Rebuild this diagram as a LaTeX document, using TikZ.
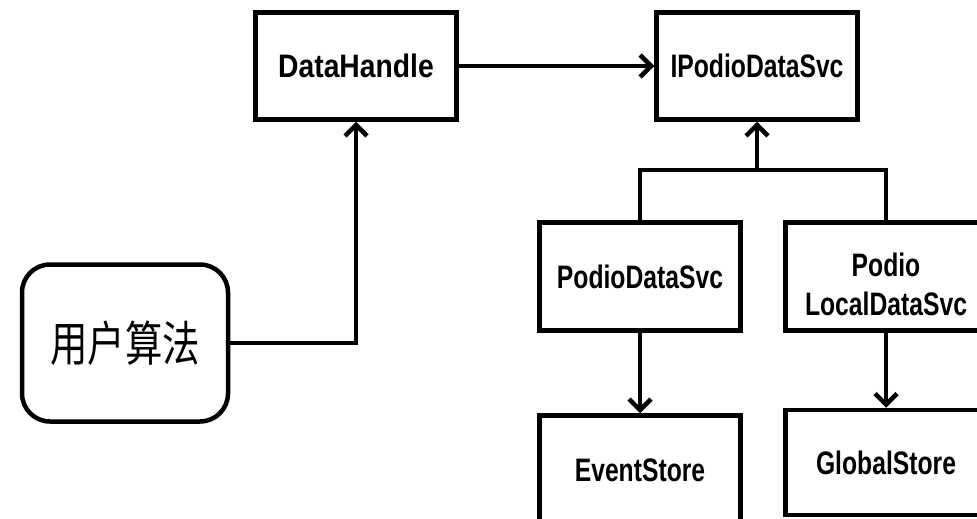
\documentclass[tikz,border=0pt]{standalone}
\usepackage{fontspec}
\setmainfont{Liberation Sans}
\newfontfamily\boxfont[FakeStretch=0.76]{Liberation Sans}
\newfontfamily\wideboxfont[FakeStretch=0.87]{Liberation Sans}
\newfontfamily\cjkfont[FakeStretch=0.78]{Noto Sans CJK SC}
\usetikzlibrary{arrows.meta}

\begin{document}
\begin{tikzpicture}[x=1pt, y=-1pt,
  box/.style={draw, line width=4.5pt, minimum width=201pt, minimum height=108pt,
    inner sep=0pt, text height=23pt, text depth=0pt,
    font=\boxfont\bfseries\fontsize{32.5}{39}\selectfont},
  lbl/.style={inner sep=0pt, align=center,
    font=\boxfont\bfseries\fontsize{32.5}{39}\selectfont},
  wire/.style={line width=4.5pt},
  arr/.style={line width=4.5pt, -{Straight Barb[length=11pt,width=22pt]}}
]
\useasboundingbox (0,0) rectangle (977,519);
\clip (0,0) rectangle (977,519);

% user algorithm (rounded box)
\node[draw, line width=4.5pt, rounded corners=28pt, minimum width=206pt,
  minimum height=157pt, inner sep=0pt,
  font=\cjkfont\fontsize{48}{52}\selectfont] (user) at (125,343) {用户算法};

% top row
\node[box, minimum height=107pt, font=\wideboxfont\bfseries\fontsize{32.5}{39}\selectfont]
  (dh) at (356,66) {DataHandle};
\node[box, minimum height=107pt] (ip) at (757,66) {IPodioDataSvc};

% services
\node[box] (pds) at (640,276.5) {PodioDataSvc};
\node[box] (pl) at (886,276.5) {};
\node[lbl] (pltext) at (886,284) {Podio\\LocalDataSvc};

% stores
\node[box] (es) at (640,469.5) {EventStore};
\node[box, minimum height=105pt] (gs) at (886,462.5) {GlobalStore};

% connectors
\draw[arr] (user.east) -| (dh.south);
\draw[arr] (dh.east) -- (ip.west);
\coordinate (jn) at (757,170);
\draw[wire, line join=miter] (pds.north) |- (jn) -| (pl.north);
\draw[arr] (jn) -- (ip.south);
\draw[arr] (pds.south) -- (es.north);
\draw[arr] (pl.south) -- (gs.north);
\end{tikzpicture}
\end{document}
